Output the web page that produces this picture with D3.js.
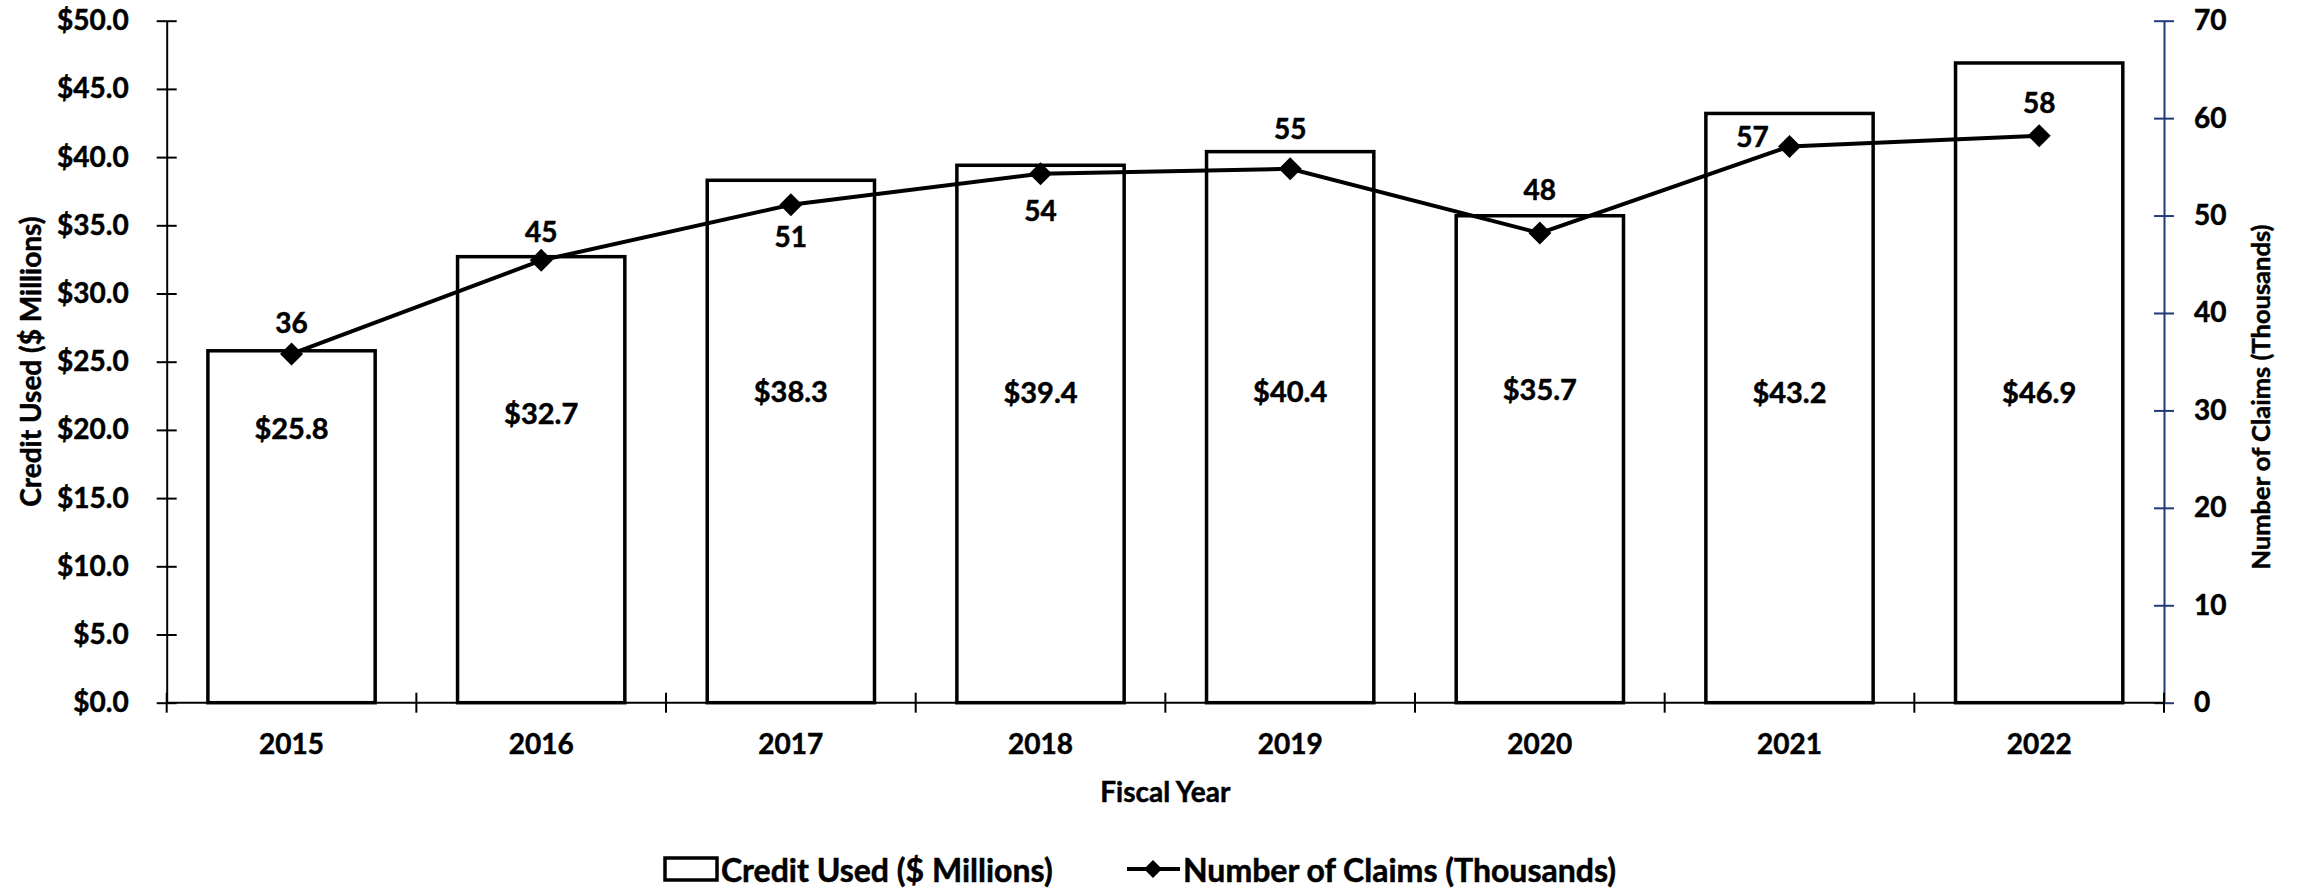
<!DOCTYPE html>
<html>
<head>
<meta charset="utf-8">
<script src="https://cdn.jsdelivr.net/npm/d3@7"></script>
<style>
  html, body { margin: 0; padding: 0; background: #fff; }
  svg { display: block; }
  text { font-family: Lato, "Open Sans", sans-serif; font-weight: 700; fill: #000; stroke: #000; stroke-width: 0.5px; }
</style>
</head>
<body>
<svg id="chart" width="2298" height="889"></svg>
<script>
// Fiscal years on the category axis
const years = ["2015", "2016", "2017", "2018", "2019", "2020", "2021", "2022"];
// Credit used, $ millions (bars, left axis)
const creditUsed = [25.8, 32.7, 38.3, 39.4, 40.4, 35.7, 43.2, 46.9];
// Number of claims, thousands (line, right axis)
const claims = [35.8, 45.4, 51.1, 54.3, 54.8, 48.2, 57.1, 58.2];
// Axis tick values
const creditTicks = [0, 5, 10, 15, 20, 25, 30, 35, 40, 45, 50];
const claimTicks = [0, 10, 20, 30, 40, 50, 60, 70];

// Where each bar's value label sits, in left-axis units
const barLabelLevel = [20.2, 21.3, 22.9, 22.8, 22.9, 23.0, 22.8, 22.8];
// Offset of each claim label from its point, in px
const claimLabelOffset = [[0, -32], [0, -29], [0, 31], [0, 36], [0, -41], [0, -44], [-37, -10], [0, -34]];

const plot = { left: 166.7, right: 2164, top: 20.7, bottom: 702.7 };
const FONT = 28;
const LEGEND_FONT = 32;
const NAVY = "#22397a";

const svg = d3.select("#chart");

const x = d3.scaleBand()
  .domain(years)
  .range([plot.left, plot.right])
  .paddingInner(0.33)
  .paddingOuter(0.165);

const yL = d3.scaleLinear().domain([0, 50]).range([plot.bottom, plot.top]);
const yR = d3.scaleLinear().domain([0, 70]).range([plot.bottom, plot.top]);

const fmtMoney = d3.format("$.1f");
const fmtInt = d3.format(".0f");

// Bars
svg.append("g").selectAll("rect")
  .data(years)
  .join("rect")
  .attr("x", d => x(d))
  .attr("y", (d, i) => yL(creditUsed[i]))
  .attr("width", x.bandwidth())
  .attr("height", (d, i) => yL(0) - yL(creditUsed[i]))
  .attr("fill", "#fff")
  .attr("stroke", "#000")
  .attr("stroke-width", 3.5);

// Bar value labels
svg.append("g").selectAll("text")
  .data(years)
  .join("text")
  .attr("x", d => x(d) + x.bandwidth() / 2)
  .attr("y", (d, i) => yL(barLabelLevel[i]))
  .attr("text-anchor", "middle")
  .attr("dominant-baseline", "central")
  .style("font-size", "29px")
  .text((d, i) => fmtMoney(creditUsed[i]));

// Left axis
const axL = d3.axisLeft(yL).tickValues(creditTicks).tickFormat(fmtMoney).tickSize(0).tickPadding(38);
const gL = svg.append("g").attr("transform", `translate(${plot.left},0)`).call(axL);
gL.select(".domain").attr("stroke", "#000").attr("stroke-width", 2);
gL.selectAll(".tick text").style("font-size", FONT + "px").attr("font-family", null);
gL.selectAll(".tick").append("line").attr("x1", -10).attr("x2", 10).attr("stroke", "#000").attr("stroke-width", 2);

// Right axis
const axR = d3.axisRight(yR).tickValues(claimTicks).tickFormat(d3.format("d")).tickSize(0).tickPadding(30);
const gR = svg.append("g").attr("transform", `translate(${plot.right},0)`).call(axR);
gR.select(".domain").attr("stroke", NAVY).attr("stroke-width", 2);
gR.selectAll(".tick text").style("font-size", FONT + "px").attr("font-family", null);
gR.selectAll(".tick").append("line").attr("x1", -10).attr("x2", 10).attr("stroke", NAVY).attr("stroke-width", 2);

// Category axis
const gX = svg.append("g").attr("transform", `translate(0,${plot.bottom})`)
  .call(d3.axisBottom(x).tickSize(0).tickPadding(42));
gX.select(".domain").remove();
gX.selectAll(".tick text").style("font-size", FONT + "px").attr("font-family", null).attr("dy", "0.35em").attr("y", 42);
svg.append("line")
  .attr("x1", plot.left).attr("x2", plot.right)
  .attr("y1", plot.bottom).attr("y2", plot.bottom)
  .attr("stroke", "#000").attr("stroke-width", 2);
// Tick marks between categories
const step = x.step();
svg.append("g").selectAll("line")
  .data(d3.range(years.length + 1))
  .join("line")
  .attr("x1", k => plot.left + k * step)
  .attr("x2", k => plot.left + k * step)
  .attr("y1", plot.bottom - 10)
  .attr("y2", plot.bottom + 10)
  .attr("stroke", "#000")
  .attr("stroke-width", 2);

// Claims line
const line = d3.line()
  .x((d, i) => x(years[i]) + x.bandwidth() / 2)
  .y(d => yR(d));
svg.append("path")
  .datum(claims)
  .attr("d", line)
  .attr("fill", "none")
  .attr("stroke", "#000")
  .attr("stroke-width", 4);

const diamond = r => `M0,${-r}L${r},0L0,${r}L${-r},0Z`;
svg.append("g").selectAll("path")
  .data(claims)
  .join("path")
  .attr("transform", (d, i) => `translate(${x(years[i]) + x.bandwidth() / 2},${yR(d)})`)
  .attr("d", diamond(11.5))
  .attr("fill", "#000");

// Claims labels
svg.append("g").selectAll("text")
  .data(claims)
  .join("text")
  .attr("x", (d, i) => x(years[i]) + x.bandwidth() / 2 + claimLabelOffset[i][0])
  .attr("y", (d, i) => yR(d) + claimLabelOffset[i][1])
  .attr("text-anchor", "middle")
  .attr("dominant-baseline", "central")
  .style("font-size", FONT + "px")
  .text(d => fmtInt(d));

// Axis titles
svg.append("text")
  .attr("transform", `translate(30,${(plot.top + plot.bottom) / 2}) rotate(-90)`)
  .attr("text-anchor", "middle")
  .attr("dominant-baseline", "central")
  .style("font-size", FONT + "px")
  .text("Credit Used ($ Millions)");

svg.append("text")
  .attr("transform", `translate(2260,397) rotate(-90)`)
  .attr("text-anchor", "middle")
  .attr("dominant-baseline", "central")
  .style("font-size", "25.5px")
  .text("Number of Claims (Thousands)");

svg.append("text")
  .attr("x", (plot.left + plot.right) / 2)
  .attr("y", 791)
  .attr("text-anchor", "middle")
  .attr("dominant-baseline", "central")
  .style("font-size", FONT + "px")
  .text("Fiscal Year");

// Legend
const lg = svg.append("g").attr("transform", "translate(0,869)");
lg.append("rect")
  .attr("x", 665).attr("y", -11).attr("width", 52).attr("height", 22)
  .attr("fill", "#fff").attr("stroke", "#000").attr("stroke-width", 3.5);
lg.append("text")
  .attr("x", 721).attr("y", 0)
  .attr("dominant-baseline", "central")
  .style("font-size", LEGEND_FONT + "px")
  .text("Credit Used ($ Millions)");
lg.append("line")
  .attr("x1", 1127).attr("x2", 1180).attr("y1", 0).attr("y2", 0)
  .attr("stroke", "#000").attr("stroke-width", 4);
lg.append("path")
  .attr("transform", "translate(1153,0)")
  .attr("d", diamond(9))
  .attr("fill", "#000");
lg.append("text")
  .attr("x", 1183).attr("y", 0)
  .attr("dominant-baseline", "central")
  .style("font-size", LEGEND_FONT + "px")
  .text("Number of Claims (Thousands)");
</script>
</body>
</html>
